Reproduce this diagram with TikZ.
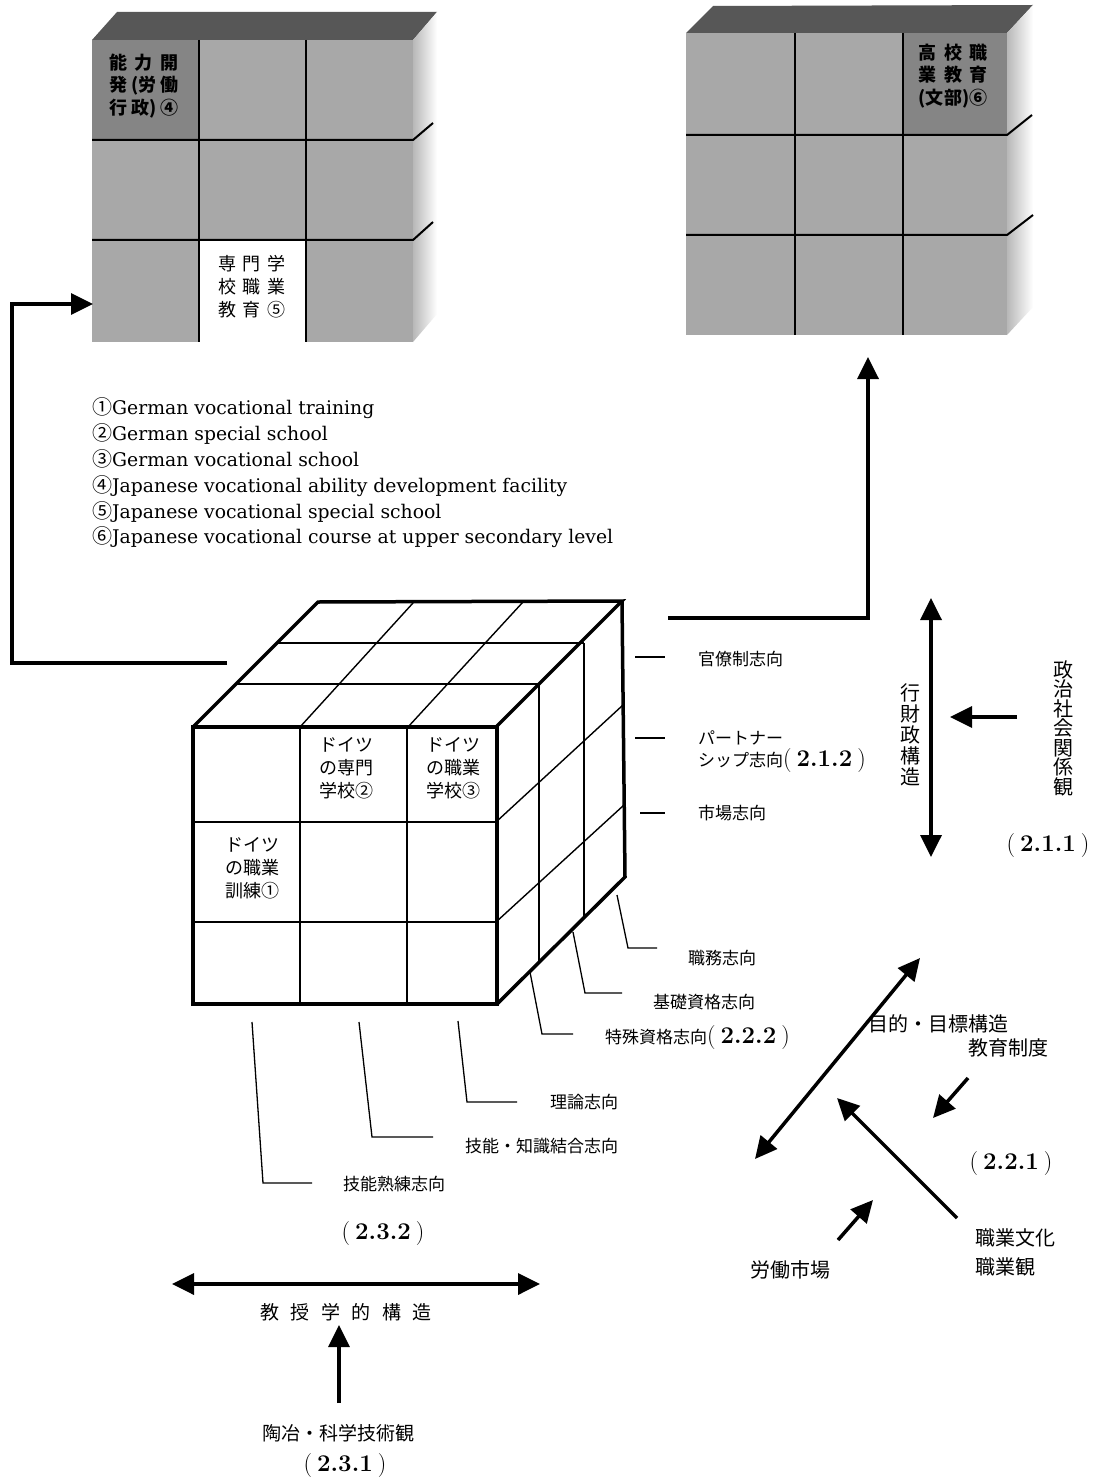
\documentclass[tikz,border=0pt]{standalone}
\usepackage{fontspec}
\newfontfamily\jp{Noto Sans CJK JP}
\newfontfamily\legendfont{DejaVu Serif}
\usetikzlibrary{arrows.meta}
\newcommand{\secnum}[1]{{\normalfont\fontsize{24}{26}\selectfont(\kern5pt\textbf{#1}\kern5pt)}}
\newcommand{\spreadline}[2]{\hbox to #1{#2}}
\begin{document}
\begin{tikzpicture}[x=1pt,y=-1pt,
  arr/.style={line width=3.5pt,-{Triangle[length=22pt,width=21pt]}},
  darr/.style={line width=3.5pt,{Triangle[length=22pt,width=21pt]}-{Triangle[length=22pt,width=21pt]}},
  cubeedge/.style={line width=3.5pt,line join=miter},
  cubeline/.style={line width=1.4pt},
  boxgrid/.style={line width=2pt},
  leader/.style={line width=1.3pt},
  lbl/.style={inner sep=0pt,anchor=west,font=\jp\fontsize{17}{20}\selectfont},
  big/.style={inner sep=0pt,font=\jp\fontsize{20}{23}\selectfont},
  cell/.style={inner sep=0pt,align=center,font=\jp\fontsize{18}{23}\selectfont},
  darkcell/.style={inner sep=0pt,align=center,font=\jp\bfseries\fontsize{18}{22.5}\selectfont},
  numlbl/.style={inner sep=0pt},
  listtxt/.style={inner sep=0pt,anchor=west,align=left,font=\legendfont\fontsize{18.8}{25.8}\selectfont},
  frontfill/.style={fill=black!34},
  topfill/.style={fill=black!66},
  darkfill/.style={fill=black!48}
]
\useasboundingbox (0,0) rectangle (1095,1479);
\fill[white] (0,0) rectangle (1095,1479);

% ---------- top-left block ----------
\fill[topfill] (92,40) -- (117,12) -- (437,12) -- (413,40) -- cycle;
\shade[left color=black!28,right color=white] (413,40) -- (437,12) -- (437,314) -- (413,342) -- cycle;
\fill[frontfill] (92,40) rectangle (413,342);
\fill[darkfill] (92,40) rectangle (199,140);
\fill[white] (199,240) rectangle (306,342);
\draw[boxgrid] (199,40) -- (199,342) (306,40) -- (306,342);
\draw[boxgrid] (92,140) -- (413,140) -- (433,123);
\draw[boxgrid] (92,240) -- (413,240) -- (433,222);
\node[darkcell] (jp4) at (144,86) {\spreadline{70pt}{能\hfil 力\hfil 開}\\\spreadline{70pt}{発\hfil(労\hfil 働}\\\spreadline{70pt}{行\hfil 政)\hfil ④}};
\node[cell] (jp5) at (252,287) {\spreadline{68pt}{専\hfil 門\hfil 学}\\\spreadline{68pt}{校\hfil 職\hfil 業}\\\spreadline{68pt}{教\hfil 育\hfil ⑤}};
\coordinate (tlin) at (93,304);

% ---------- top-right block ----------
\fill[topfill] (686,33) -- (713,6) -- (1033,5) -- (1007,33) -- cycle;
\shade[left color=black!28,right color=white] (1007,33) -- (1033,5) -- (1033,307) -- (1007,335) -- cycle;
\fill[frontfill] (686,33) rectangle (1007,335);
\fill[darkfill] (903,33) rectangle (1007,135);
\draw[boxgrid] (795,33) -- (795,335) (903,33) -- (903,335);
\draw[boxgrid] (686,135) -- (1007,135) -- (1032,115);
\draw[boxgrid] (686,235) -- (1007,235) -- (1033,215);
\node[darkcell] (jp6) at (953,76) {\spreadline{70pt}{高\hfil 校\hfil 職}\\\spreadline{70pt}{業\hfil 教\hfil 育}\\\spreadline{70pt}{(文\hfil 部)\hfil ⑥}};
\coordinate (trin) at (868,357);

% ---------- legend ----------
\node[listtxt] (legend) at (92,473) {{\jp\fontsize{20}{25.8}\selectfont ①}German vocational training\\
{\jp\fontsize{20}{25.8}\selectfont ②}German special school\\
{\jp\fontsize{20}{25.8}\selectfont ③}German vocational school\\
{\jp\fontsize{20}{25.8}\selectfont ④}Japanese vocational ability development facility\\
{\jp\fontsize{20}{25.8}\selectfont ⑤}Japanese vocational special school\\
{\jp\fontsize{20}{25.8}\selectfont ⑥}Japanese vocational course at upper secondary level};

% ---------- main cube ----------
\coordinate (F1) at (193,727);
\coordinate (F2) at (496,727);
\coordinate (F3) at (497,1004);
\coordinate (F4) at (193,1004);
\coordinate (B1) at (318,602);
\coordinate (B2) at (622,601);
\coordinate (B3) at (625,877);
\fill[white] (F1) -- (B1) -- (B2) -- (B3) -- (F3) -- (F4) -- cycle;
% front grid
\draw[cubeline] (300,727) -- (300,1004) (407,727) -- (407,1004);
\draw[cubeline] (193,822) -- (496,822) (193,922) -- (496,922);
% top grid
\draw[cubeline] (300,727) -- (413,603) (408,727) -- (523,602);
\draw[cubeline] (236,684) -- (539,684) (278,643) -- (584,643);
% right grid
\draw[cubeline] (539,684) -- (539,962) (584,643) -- (584,917);
\draw[cubeline] (496,822) -- (623,705) (496,922) -- (624,805);
% outline
\draw[cubeedge] (F1) rectangle (F3);
\draw[cubeedge] (F1) -- (B1) -- (B2) -- (F2);
\draw[cubeedge] (B2) -- (B3) -- (F3);
% cell labels
\node[cell] (g2) at (346,768) {ドイツ\\の専門\\学校②};
\node[cell] (g3) at (453,768) {ドイツ\\の職業\\学校③};
\node[cell] (g1) at (252,868) {ドイツ\\の職業\\訓練①};
\coordinate (cubeL) at (227,663);
\coordinate (cubeR) at (668,618);

% ---------- connectors to blocks ----------
\coordinate (lc1) at (12,663);
\coordinate (lc2) at (12,304);
\draw[arr,line join=miter] (cubeL) -- (lc1) -- (lc2) -- (tlin);
\coordinate (rc1) at (868,618);
\draw[arr,line join=miter] (cubeR) -- (rc1) -- (trin);

% ---------- right-side administrative labels ----------
\node[lbl] (o1) at (698,659) {官僚制志向};
\node[lbl,align=left] (o2) at (698,752) {パートナー\\[2pt]シップ志向\secnum{2.1.2}};
\node[lbl] (o3) at (698,813) {市場志向};
\draw[leader] (635,657) -- (665,657);
\draw[leader] (635,738) -- (665,738);
\draw[leader] (640,813) -- (665,813);

\coordinate (va1) at (931,598);
\coordinate (va2) at (931,857);
\draw[darr] (va1) -- (va2);
\node[big,align=center,font=\jp\fontsize{20}{21}\selectfont] (adm) at (910,735) {行\\財\\政\\構\\造};
\node[big,align=center,font=\jp\fontsize{20}{19.5}\selectfont] (pol) at (1063,728) {政\\治\\社\\会\\関\\係\\観};
\coordinate (pa1) at (1017,717);
\coordinate (pa2) at (950,717);
\draw[arr] (pa1) -- (pa2);
\node[numlbl] (n211) at (1048,846) {\secnum{2.1.1}};

% ---------- right-face leaders ----------
\draw[leader] (617,895) -- (628,948) -- (657,948);
\draw[leader] (573,932) -- (585,993) -- (622,993);
\draw[leader] (530,972) -- (542,1034) -- (573,1034);
\node[lbl] (q1) at (688,958) {職務志向};
\node[lbl] (q2) at (653,1002) {基礎資格志向};
\node[lbl] (q3) at (605,1037) {特殊資格志向\secnum{2.2.2}};

% ---------- bottom leaders ----------
\draw[leader] (252,1022) -- (263,1183) -- (312,1183);
\draw[leader] (359,1022) -- (372,1137) -- (433,1137);
\draw[leader] (458,1021) -- (467,1102) -- (517,1102);
\node[lbl] (p1) at (343,1184) {技能熟練志向};
\node[lbl] (p2) at (465,1146) {技能・知識結合志向};
\node[lbl] (p3) at (550,1102) {理論志向};
\node[numlbl] (n232) at (383,1233) {\secnum{2.3.2}};

\coordinate (ha1) at (172,1284);
\coordinate (ha2) at (540,1284);
\draw[darr] (ha1) -- (ha2);
\node[big,font=\jp\fontsize{19}{22}\selectfont] (did) at (346,1312) {\spreadline{172pt}{教\hfil 授\hfil 学\hfil 的\hfil 構\hfil 造}};
\coordinate (ua1) at (339,1403);
\coordinate (ua2) at (339,1325);
\draw[arr] (ua1) -- (ua2);
\node[big,font=\jp\fontsize{19}{22}\selectfont] (edu) at (338,1433) {陶冶・科学技術観};
\node[numlbl] (n231) at (345,1465) {\secnum{2.3.1}};

% ---------- goal structure ----------
\coordinate (da1) at (755,1159);
\coordinate (da2) at (920,958);
\draw[darr] (da1) -- (da2);
\node[big,anchor=west] (goal) at (868,1024) {目的・目標構造};
\node[big,anchor=west] (sys) at (968,1048) {教育制度};
\coordinate (sa1) at (968,1078);
\coordinate (sa2) at (933,1118);
\draw[arr] (sa1) -- (sa2);
\node[numlbl] (n221) at (1011,1163) {\secnum{2.2.1}};
\coordinate (ca1) at (957,1218);
\coordinate (ca2) at (837,1098);
\draw[arr] (ca1) -- (ca2);
\node[big,anchor=west,align=left,font=\jp\fontsize{20}{29}\selectfont] (cult) at (975,1252) {職業文化\\職業観};
\coordinate (la1) at (838,1240);
\coordinate (la2) at (873,1200);
\draw[arr] (la1) -- (la2);
\node[big,anchor=west] (lab) at (750,1270) {労働市場};
\end{tikzpicture}
\end{document}
